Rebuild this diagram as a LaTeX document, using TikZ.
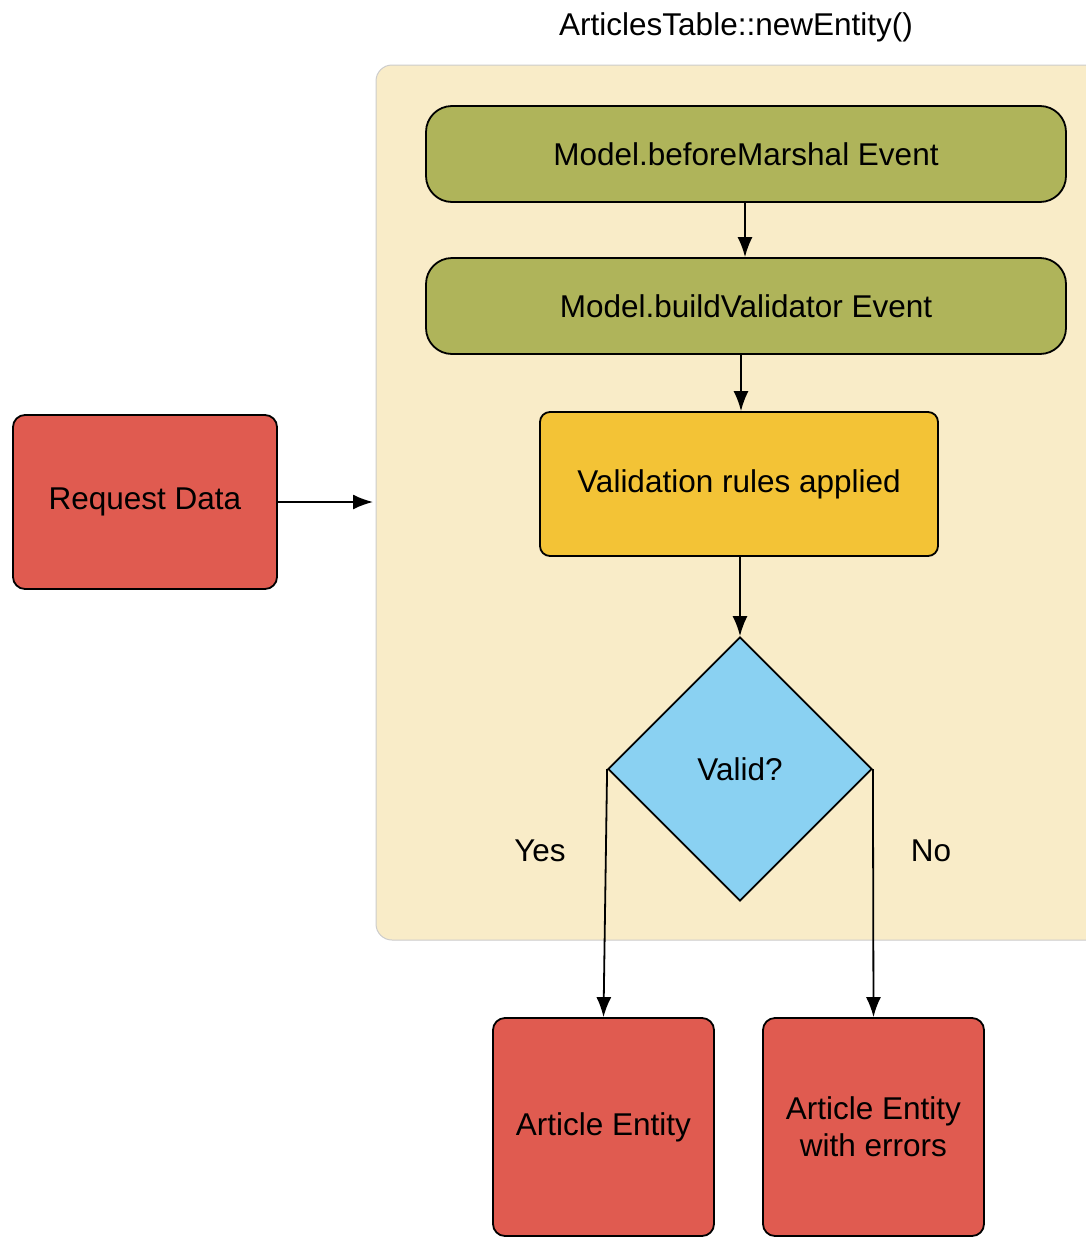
\documentclass[tikz,border=0pt]{standalone}
\usepackage{fontspec}
\setmainfont{Liberation Sans}
\usetikzlibrary{shapes.geometric,arrows.meta}
\definecolor{cont}{HTML}{F9ECC8}
\definecolor{grn}{HTML}{AFB45A}
\definecolor{yel}{HTML}{F3C336}
\definecolor{blu}{HTML}{8AD1F2}
\definecolor{rd}{HTML}{E05B50}
\tikzset{
  box/.style={draw=black, line width=1.8pt, rounded corners=#1, align=center, inner sep=0pt, font=\fontsize{31.5}{37}\selectfont},
  box/.default=12pt,
  arr/.style={line width=1.8pt, -{Latex[length=20pt,width=15pt]}},
  lbl/.style={font=\fontsize{31.5}{37}\selectfont}
}
\begin{document}
\begin{tikzpicture}[x=1pt,y=-1pt]
\useasboundingbox (0,0) rectangle (1086,1237);
% container
\fill[cont, draw=black!20, line width=1pt, rounded corners=16pt] (376,65) rectangle (1120,940);
\node[lbl] (title) at (736,27) {ArticlesTable::newEntity()};
% green
\node[box=26pt, fill=grn, minimum width=640pt, minimum height=96pt] (bm) at (746,154) {Model.beforeMarshal Event};
\node[box=26pt, fill=grn, minimum width=640pt, minimum height=96pt] (bv) at (746,306) {Model.buildValidator Event};
\node[box=10pt, fill=yel, minimum width=398pt, minimum height=144pt] (vr) at (739,484) {Validation rules applied};
\node[draw=black, line width=1.8pt, fill=blu, diamond, minimum width=264pt, minimum height=264pt, inner sep=0pt, font=\fontsize{31.5}{37}\selectfont, aspect=1] (dv) at (740,769) {Valid?};
\node[box=12pt, fill=rd, minimum width=264pt, minimum height=174pt] (rq) at (145,502) {Request Data};
\node[box=12pt, fill=rd, minimum width=221pt, minimum height=218pt] (ae) at (603.5,1127) {Article Entity};
\node[box=12pt, fill=rd, minimum width=221pt, minimum height=218pt] (aee) at (873.5,1127) {Article Entity\\with errors};
% arrows
\coordinate (cin) at (373,502);
\draw[arr] (rq.east) -- (cin);
\draw[arr] (bm.south -| 745,0) -- (bv.north -| 745,0);
\draw[arr] (bv.south -| 741,0) -- (vr.north -| 741,0);
\draw[arr] (vr.south -| 740,0) -- (dv.north);
\draw[arr] (dv.west) -- (ae.north);
\draw[arr] (dv.east) -- (aee.north);
\node[lbl] (yes) at (540,851) {Yes};
\node[lbl] (no) at (931,851) {No};
\end{tikzpicture}
\end{document}
